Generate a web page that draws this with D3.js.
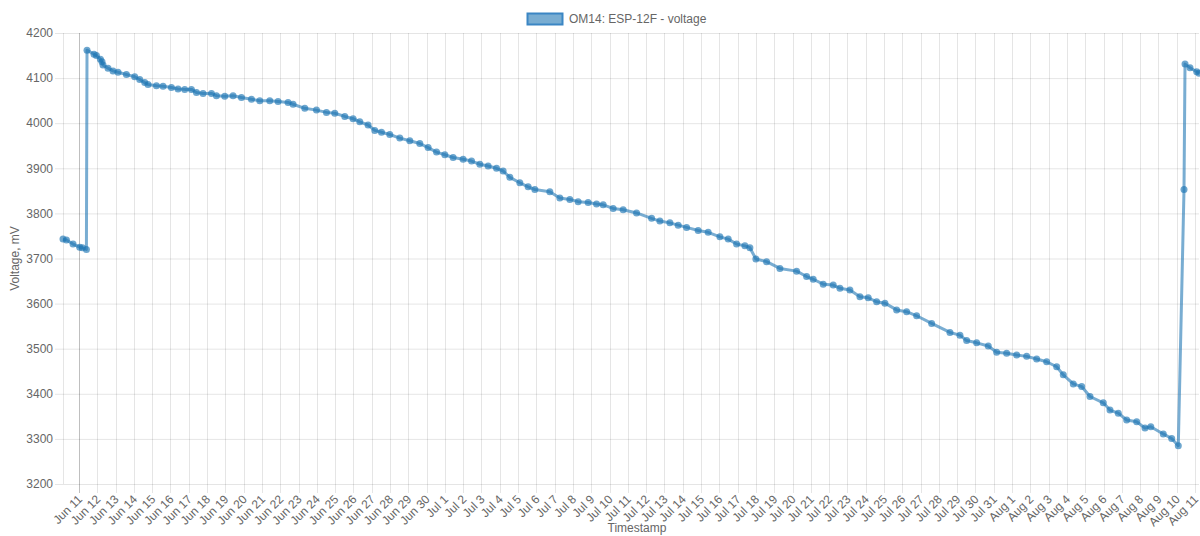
<!DOCTYPE html>
<html><head><meta charset="utf-8">
<script src="https://cdn.jsdelivr.net/npm/d3@7"></script>
<style>body{margin:0;background:#fff;} svg{display:block;font-family:"Liberation Sans",Arial,Helvetica,sans-serif;}</style>
</head><body><svg id="c" width="1200" height="536"></svg>
<script>
const seriesName = "OM14: ESP-12F - voltage";
const yAxisTitle = "Voltage, mV";
const xAxisTitle = "Timestamp";
const yTicks = [3200, 3300, 3400, 3500, 3600, 3700, 3800, 3900, 4000, 4100, 4200];
const timestamps = [
"2019-06-10 03:00","2019-06-10 07:30","2019-06-10 16:10","2019-06-11 00:55","2019-06-11 04:28","2019-06-11 09:43",
"2019-06-11 10:30","2019-06-11 19:41","2019-06-11 22:50","2019-06-12 04:05","2019-06-12 06:11","2019-06-12 07:29",
"2019-06-12 14:03","2019-06-12 20:37","2019-06-13 03:10","2019-06-13 14:12","2019-06-14 01:05","2019-06-14 07:39",
"2019-06-14 14:13","2019-06-14 18:33","2019-06-15 05:34","2019-06-15 14:14","2019-06-16 01:15","2019-06-16 09:55",
"2019-06-16 18:42","2019-06-17 03:29","2019-06-17 10:03","2019-06-17 18:43","2019-06-18 05:44","2019-06-18 12:17",
"2019-06-18 23:11","2019-06-19 10:05","2019-06-19 21:06","2019-06-20 10:13","2019-06-20 21:07","2019-06-21 10:14",
"2019-06-21 21:07","2019-06-22 10:15","2019-06-22 16:48","2019-06-23 08:10","2019-06-23 23:31","2019-06-24 12:38",
"2019-06-24 23:31","2019-06-25 12:38","2019-06-25 23:33","2019-06-26 08:20","2019-06-26 19:13","2019-06-27 04:00",
"2019-06-27 12:48","2019-06-27 23:41","2019-06-28 12:49","2019-06-29 01:57","2019-06-29 15:04","2019-06-30 01:58",
"2019-06-30 12:59","2019-06-30 23:53","2019-07-01 10:46","2019-07-01 23:53","2019-07-02 10:55","2019-07-02 21:48",
"2019-07-03 08:41","2019-07-03 19:42","2019-07-04 04:22","2019-07-04 13:10","2019-07-05 02:17","2019-07-05 13:10",
"2019-07-05 21:58","2019-07-06 17:38","2019-07-07 06:46","2019-07-07 19:54","2019-07-08 06:47","2019-07-08 19:55",
"2019-07-09 06:56","2019-07-09 15:36","2019-07-10 04:42","2019-07-10 17:50","2019-07-11 11:25","2019-07-12 07:06",
"2019-07-12 18:00","2019-07-13 07:08","2019-07-13 18:00","2019-07-14 05:01","2019-07-14 20:15","2019-07-15 09:22",
"2019-07-16 00:43","2019-07-16 11:37","2019-07-16 22:38","2019-07-17 09:31","2019-07-17 16:05","2019-07-17 23:57",
"2019-07-18 14:00","2019-07-19 07:26","2019-07-20 05:21","2019-07-20 18:29","2019-07-21 03:08","2019-07-21 16:16",
"2019-07-22 05:24","2019-07-22 14:11","2019-07-23 03:18","2019-07-23 16:26","2019-07-24 03:19","2019-07-24 14:21",
"2019-07-25 01:14","2019-07-25 16:35","2019-07-26 05:43","2019-07-26 18:50","2019-07-27 14:31","2019-07-28 14:32",
"2019-07-29 03:39","2019-07-29 12:26","2019-07-30 01:34","2019-07-30 16:47","2019-07-31 03:48","2019-07-31 16:55",
"2019-08-01 06:03","2019-08-01 19:10","2019-08-02 08:18","2019-08-02 21:25","2019-08-03 10:32","2019-08-03 19:12",
"2019-08-04 08:20","2019-08-04 19:21","2019-08-05 06:14","2019-08-05 23:41","2019-08-06 08:28","2019-08-06 19:22",
"2019-08-07 06:23","2019-08-07 19:30","2019-08-08 06:24","2019-08-08 14:00","2019-08-09 06:24","2019-08-09 17:25",
"2019-08-10 02:05","2019-08-10 09:35","2019-08-10 10:54","2019-08-10 17:27","2019-08-11 02:14","2019-08-11 05:15"
];
const voltages = [
3743,3741,3732,3725,3724,3720,
4162,4153,4150,4142,4136,4129,
4122,4116,4113,4108,4103,4097,
4090,4086,4083,4082,4079,4076,
4075,4075,4068,4066,4066,4061,
4060,4061,4057,4053,4050,4050,
4048,4046,4042,4033,4029,4024,
4022,4015,4010,4003,3996,3984,
3980,3975,3967,3961,3955,3946,
3936,3930,3924,3920,3916,3909,
3905,3900,3894,3880,3868,3859,
3853,3848,3834,3831,3826,3824,
3821,3819,3811,3808,3801,3789,
3783,3779,3774,3769,3762,3758,
3748,3743,3732,3728,3724,3699,
3693,3678,3672,3660,3654,3643,
3641,3634,3630,3615,3613,3604,
3601,3586,3582,3573,3556,3536,
3530,3518,3513,3506,3492,3490,
3486,3483,3477,3471,3460,3442,
3422,3416,3394,3380,3364,3357,
3342,3338,3324,3327,3311,3301,
3285,3853,4131,4123,4114,4111
];

const parse = d3.timeParse("%Y-%m-%d %H:%M");
const data = timestamps.map((t, i) => ({t: parse(t), v: voltages[i]}));

const plot = {left: 63, right: 1199, top: 33, bottom: 484};
const svg = d3.select("#c");

const x = d3.scaleTime().domain(d3.extent(data, d => d.t)).range([plot.left, plot.right]);
const y = d3.scaleLinear().domain([3200, 4200]).range([plot.bottom, plot.top]);

const dayTicks = d3.timeDay.range(d3.timeDay.ceil(x.domain()[0]), x.domain()[1]);
const fmt = d3.timeFormat("%b %-d");

// grid
const grid = svg.append("g");
grid.selectAll("line.yg").data(yTicks).join("line")
  .attr("x1", plot.left - 8).attr("x2", plot.right)
  .attr("y1", d => y(d) + 0.5).attr("y2", d => y(d) + 0.5)
  .attr("stroke", "rgba(0,0,0,0.1)").attr("stroke-width", 1);
grid.append("line").attr("x1", plot.left + 0.5).attr("x2", plot.left + 0.5)
  .attr("y1", plot.top).attr("y2", plot.bottom)
  .attr("stroke", "rgba(0,0,0,0.1)");
grid.selectAll("line.xg").data(dayTicks).join("line")
  .attr("x1", d => Math.round(x(d)) + 0.5).attr("x2", d => Math.round(x(d)) + 0.5)
  .attr("y1", plot.top).attr("y2", plot.bottom + 9)
  .attr("stroke", (d, i) => i === 0 ? "rgba(0,0,0,0.25)" : "rgba(0,0,0,0.1)");

// y labels
svg.append("g").selectAll("text").data(yTicks).join("text")
  .attr("x", plot.left - 10).attr("y", d => y(d)).attr("dy", "0.35em")
  .attr("text-anchor", "end").attr("font-size", 12).attr("fill", "#666")
  .text(d => d);

// x labels
svg.append("g").selectAll("text").data(dayTicks).join("text")
  .attr("transform", d => `translate(${x(d) + 1},${plot.bottom + 13}) rotate(-45)`)
  .attr("text-anchor", "end").attr("dy", "0.35em")
  .attr("font-size", 12).attr("fill", "#666")
  .text(d => fmt(d));

// axis titles
svg.append("text").attr("transform", `translate(19,${(plot.top + plot.bottom) / 2}) rotate(-90)`)
  .attr("text-anchor", "middle").attr("font-size", 12).attr("fill", "#666").text(yAxisTitle);
svg.append("text").attr("x", 637).attr("y", 532)
  .attr("text-anchor", "middle").attr("font-size", 12).attr("fill", "#666").text(xAxisTitle);

// line
const line = d3.line().x(d => x(d.t)).y(d => y(d.v));
svg.append("path").datum(data).attr("d", line)
  .attr("fill", "none").attr("stroke", "rgba(31,119,180,0.6)").attr("stroke-width", 3)
  .attr("stroke-linejoin", "round");

svg.append("g").selectAll("circle").data(data).join("circle")
  .attr("cx", d => x(d.t)).attr("cy", d => y(d.v)).attr("r", 3.5)
  .attr("fill", "rgba(31,119,180,0.65)");

// legend
const lg = svg.append("g");
lg.append("rect").attr("x", 527.5).attr("y", 13.5).attr("width", 35).attr("height", 11)
  .attr("fill", "rgba(31,119,180,0.6)").attr("stroke", "#3b86c4").attr("stroke-width", 2);
lg.append("text").attr("x", 569).attr("y", 19).attr("dy", "0.35em")
  .attr("font-size", 12).attr("fill", "#666").text(seriesName);
</script></body></html>
